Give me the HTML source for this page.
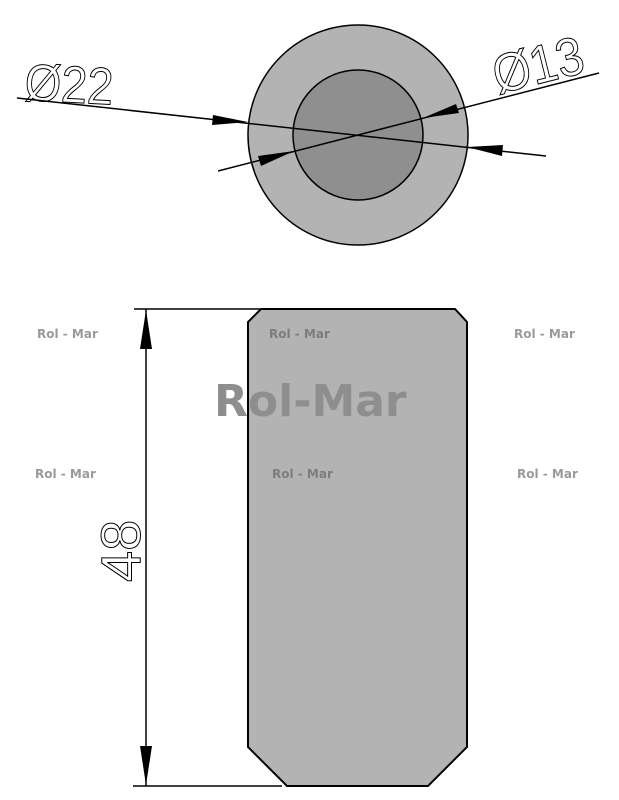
<!DOCTYPE html>
<html><head><meta charset="utf-8"><style>
html,body{margin:0;padding:0;background:#fff;width:619px;height:800px;overflow:hidden}
svg{display:block}
.wm{font-family:"DejaVu Sans","Liberation Sans",sans-serif;font-weight:bold;font-size:12px;fill:#9a9a9a}
.dim{font-family:"Liberation Sans",sans-serif;fill:none;stroke:#000;stroke-width:1}
</style></head><body>
<svg width="619" height="800" viewBox="0 0 619 800" xmlns="http://www.w3.org/2000/svg">
<ellipse cx="358" cy="135" rx="110" ry="110" fill="#b3b3b3" stroke="#000" stroke-width="1.5"/>
<ellipse cx="358" cy="135" rx="65" ry="65" fill="#8f8f8f" stroke="#000" stroke-width="1.5"/>
<line x1="17" y1="98" x2="546" y2="156" stroke="#000" stroke-width="1.5"/>
<polygon points="248,122 212,125 213,115" fill="#000"/>
<polygon points="467,147 503,145 502,156" fill="#000"/>
<line x1="218" y1="171" x2="599" y2="73" stroke="#000" stroke-width="1.5"/>
<polygon points="294,151 261,166 258,156" fill="#000"/>
<polygon points="423,118 456,104 459,113" fill="#000"/>
<text class="dim" font-size="52" transform="translate(24 100) rotate(3) scale(0.9 1)">Ø22</text>
<text class="dim" font-size="54" transform="translate(498 94) rotate(-14) scale(0.9 1)">Ø13</text>
<polygon points="261,309 455,309 467,322 467,747 428,786 287,786 248,747 248,322" fill="#b3b3b3" stroke="#000" stroke-width="2"/>
<line x1="134" y1="309" x2="260" y2="309" stroke="#000" stroke-width="1.5"/>
<line x1="133" y1="786" x2="282" y2="786" stroke="#000" stroke-width="1.5"/>
<line x1="146" y1="309" x2="146" y2="786" stroke="#000" stroke-width="1.5"/>
<polygon points="146,310 140,349 152,349" fill="#000"/>
<polygon points="146,785 140,746 152,746" fill="#000"/>
<text class="dim" x="140" y="582" font-size="56" transform="rotate(-90 140 582)">48</text>
<text class="wm" x="37" y="338">Rol - Mar</text>
<text class="wm" x="269" y="338" style="fill:#7d7d7d">Rol - Mar</text>
<text class="wm" x="514" y="338">Rol - Mar</text>
<text class="wm" x="35" y="478">Rol - Mar</text>
<text class="wm" x="272" y="478" style="fill:#7d7d7d">Rol - Mar</text>
<text class="wm" x="517" y="478">Rol - Mar</text>
<text x="214" y="416" font-family="DejaVu Sans,sans-serif" font-weight="bold" font-size="44" fill="#8e8e8e">Rol-Mar</text>
</svg>
</body></html>
